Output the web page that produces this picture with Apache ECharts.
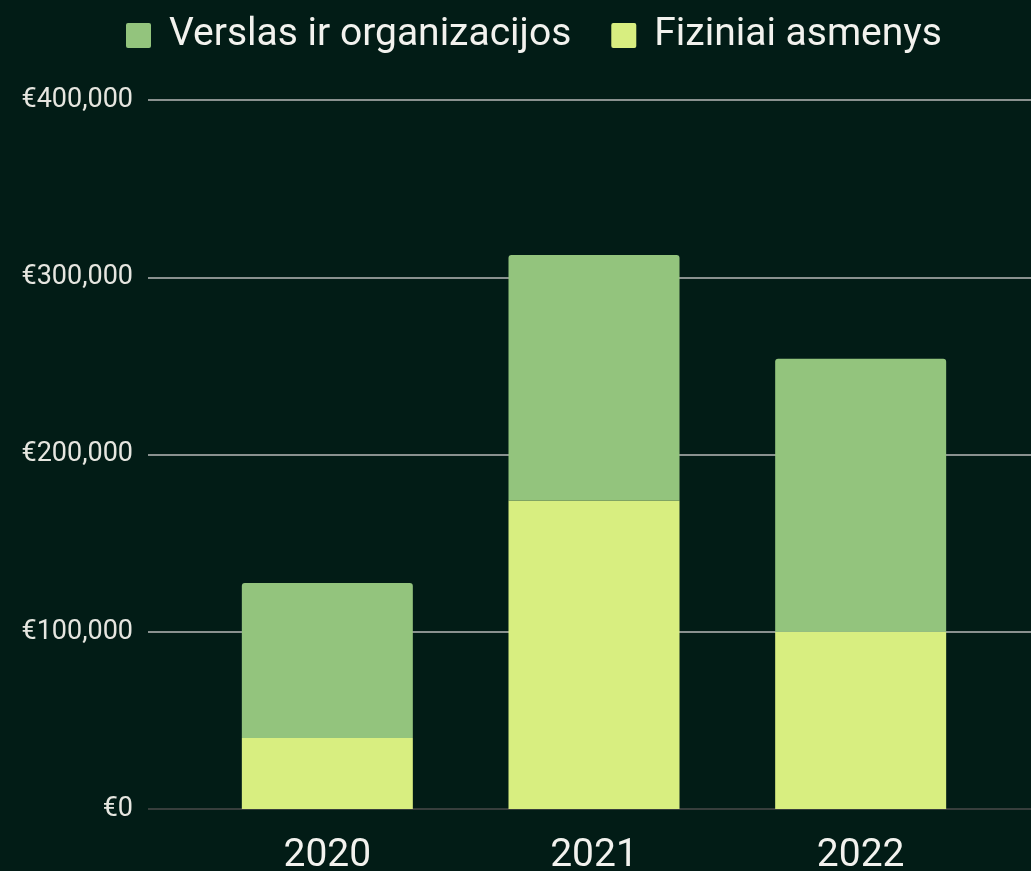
<!DOCTYPE html>
<html>
<head>
<meta charset="utf-8">
<script src="https://cdn.jsdelivr.net/npm/echarts@6/dist/echarts.min.js"></script>
<style>
  html, body { margin: 0; padding: 0; background: #021c16; }
  #main { width: 1031px; height: 871px; }
</style>
</head>
<body>
<div id="main"></div>
<script>
var years = ['2020', '2021', '2022'];
var verslas = [87500, 138500, 154000];
var fiziniai = [40000, 174000, 100000];
var yTicks = [0, 100000, 200000, 300000, 400000];

var dom = document.getElementById('main');
var myChart = echarts.init(dom);

function euro(v) {
    return '€' + v.toLocaleString('en-US');
}

var option = {
    backgroundColor: '#021c16',
    textStyle: { fontFamily: 'Roboto' },
    legend: {
        top: 11,
        left: 121,
        data: ['Verslas ir organizacijos', 'Fiziniai asmenys'],
        itemWidth: 25,
        itemHeight: 25,
        itemGap: 40,
        icon: 'path://M2,0 L23,0 Q25,0 25,2 L25,23 Q25,25 23,25 L2,25 Q0,25 0,23 L0,2 Q0,0 2,0 Z',
        textStyle: { color: '#f2f2ee', fontSize: 39, padding: [0, 0, 0, 13] }
    },
    grid: [
        { left: 148, right: 0, top: 100, bottom: 62, outerBoundsMode: 'none' },
        { left: 194, width: 800, top: 100, bottom: 62, outerBoundsMode: 'none' }
    ],
    xAxis: [
        { type: 'category', gridIndex: 0, data: years, show: false },
        {
            type: 'category', gridIndex: 1, data: years,
            axisLine: { show: false },
            axisTick: { show: false },
            axisLabel: { color: '#f2f2ee', fontSize: 39, margin: 28 }
        }
    ],
    yAxis: [
        {
            type: 'value', gridIndex: 0,
            min: yTicks[0], max: yTicks[yTicks.length - 1], interval: 100000,
            axisLine: { show: false },
            axisTick: { show: false },
            axisLabel: { color: '#e6e6e0', fontSize: 27, margin: 15, formatter: euro },
            splitLine: {
                lineStyle: {
                    color: ['#4a4a4a', '#b8b8b8', '#b8b8b8', '#b8b8b8', '#b8b8b8'],
                    width: 1.5
                }
            }
        },
        {
            type: 'value', gridIndex: 1,
            min: yTicks[0], max: yTicks[yTicks.length - 1], interval: 100000,
            show: false,
            splitLine: { show: false }
        }
    ],
    series: [
        {
            name: 'Fiziniai asmenys',
            type: 'bar',
            stack: 'total',
            xAxisIndex: 1,
            yAxisIndex: 1,
            barWidth: 171,
            itemStyle: { color: '#d8ee80' },
            data: fiziniai
        },
        {
            name: 'Verslas ir organizacijos',
            type: 'bar',
            stack: 'total',
            xAxisIndex: 1,
            yAxisIndex: 1,
            barWidth: 171,
            itemStyle: { color: '#93c47d', borderRadius: [3, 3, 0, 0] },
            data: verslas
        }
    ]
};

myChart.setOption(option);
</script>
</body>
</html>
